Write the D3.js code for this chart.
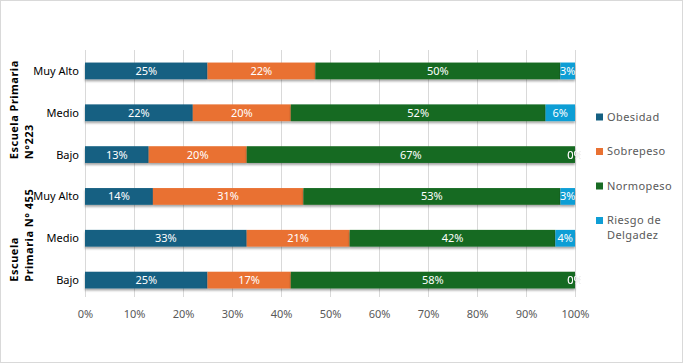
<!DOCTYPE html>
<html>
<head>
<meta charset="utf-8">
<script src="https://cdn.jsdelivr.net/npm/d3@7"></script>
<style>
  body { margin: 0; background: #fff; }
  text { font-family: "Noto Sans", "Open Sans", sans-serif; }
</style>
</head>
<body>
<svg id="chart" width="684" height="364"></svg>
<script>
var categories = ["Muy Alto", "Medio", "Bajo", "Muy Alto", "Medio", "Bajo"];
var groups = [
	{ lines: ["Escuela Primaria", "N°223"], rows: [0, 1, 2] },
	{ lines: ["Escuela", "Primaria N° 455"], rows: [3, 4, 5] }
];
var seriesNames = ["Obesidad", "Sobrepeso", "Normopeso", "Riesgo de Delgadez"];
var obesidad  = [25, 22, 13, 14, 33, 25];
var sobrepeso = [22, 20, 20, 31, 21, 17];
var normopeso = [50, 52, 67, 53, 42, 58];
var riesgo    = [3, 6, 0, 3, 4, 0];
var ticks = [0, 10, 20, 30, 40, 50, 60, 70, 80, 90, 100];
var colors = ["#156082", "#E97132", "#196B24", "#0F9ED5"];

var plotLeft = 85, plotRight = 575, plotTop = 50, plotBottom = 301;

var svg = d3.select("#chart");

svg.append("rect")
	.attr("x", 0.5).attr("y", 0.5)
	.attr("width", 682).attr("height", 362)
	.attr("fill", "#fff")
	.attr("stroke", "#d9d9d9");

var defs = svg.append("defs");
defs.append("filter").attr("id", "shadow")
	.attr("x", "-5%").attr("y", "-30%").attr("width", "110%").attr("height", "180%")
	.append("feDropShadow")
	.attr("dx", 0).attr("dy", 2).attr("stdDeviation", 1.2)
	.attr("flood-color", "#000").attr("flood-opacity", 0.35);
defs.append("filter").attr("id", "tshadow")
	.append("feDropShadow")
	.attr("dx", 0).attr("dy", 0).attr("stdDeviation", 0.5)
	.attr("flood-color", "#aaa").attr("flood-opacity", 0.8);
defs.append("clipPath").attr("id", "plotclip")
	.append("rect").attr("x", plotLeft).attr("y", plotTop)
	.attr("width", plotRight - plotLeft + 6).attr("height", plotBottom - plotTop);

// 100% stacked: domain is the share 0..1
var xScale = d3.scaleLinear().domain([0, 1]).range([plotLeft, plotRight]);
var yScale = d3.scaleBand().domain(d3.range(categories.length))
	.range([plotTop, plotBottom]).paddingInner(0.6).paddingOuter(0.3);

// gridlines
svg.append("g")
	.selectAll("line")
	.data(ticks)
	.enter().append("line")
	.attr("x1", function(d) { return xScale(d / 100); })
	.attr("x2", function(d) { return xScale(d / 100); })
	.attr("y1", plotTop)
	.attr("y2", plotBottom - 4)
	.attr("stroke", "#d9d9d9")
	.attr("stroke-width", 1)
	.attr("shape-rendering", "crispEdges");

// x axis labels
var xAxis = d3.axisBottom(xScale)
	.tickValues(ticks.map(function(t) { return t / 100; }))
	.tickSize(0)
	.tickPadding(0)
	.tickFormat(d3.format(".0%"));

var xg = svg.append("g")
	.attr("transform", "translate(0," + (plotBottom + 9) + ")")
	.call(xAxis);
xg.select(".domain").remove();
xg.selectAll("text")
	.attr("fill", "#595959")
	.style("font-size", "11px")
	.style("font-family", "\"Noto Sans\", sans-serif");

// stacked data
var rows = categories.map(function(c, i) {
	return { Obesidad: obesidad[i], Sobrepeso: sobrepeso[i],
		Normopeso: normopeso[i], "Riesgo de Delgadez": riesgo[i] };
});
var stack = d3.stack().keys(seriesNames).offset(d3.stackOffsetExpand)(rows);

var layers = svg.append("g")
	.selectAll("g")
	.data(stack)
	.enter().append("g")
	.attr("fill", function(d, i) { return colors[i]; });

layers.selectAll("rect")
	.data(function(d) { return d; })
	.enter().append("rect")
	.attr("x", function(d) { return xScale(d[0]); })
	.attr("y", function(d, i) { return yScale(i); })
	.attr("width", function(d) { return xScale(d[1]) - xScale(d[0]); })
	.attr("height", yScale.bandwidth())
	.attr("filter", "url(#shadow)");

// data labels
var labels = svg.append("g").attr("clip-path", "url(#plotclip)");
stack.forEach(function(layer) {
	labels.selectAll(null)
		.data(layer)
		.enter().append("text")
		.attr("x", function(d) { return xScale((d[0] + d[1]) / 2); })
		.attr("y", function(d, i) { return yScale(i) + yScale.bandwidth() / 2; })
		.attr("dy", "0.36em")
		.attr("text-anchor", "middle")
		.attr("fill", "#fff")
		.attr("filter", function(d) { return d.data[layer.key] === 0 ? "url(#tshadow)" : null; })
		.style("font-size", "11px")
		.text(function(d) { return d.data[layer.key] + "%"; });
});

// category labels
svg.append("g")
	.selectAll("text")
	.data(categories)
	.enter().append("text")
	.attr("x", plotLeft - 6)
	.attr("y", function(d, i) { return yScale(i) + yScale.bandwidth() / 2; })
	.attr("dy", "0.36em")
	.attr("text-anchor", "end")
	.attr("fill", "#000")
	.style("font-size", "11px")
	.text(function(d) { return d; });

// group labels (rotated, left aligned lines)
groups.forEach(function(g) {
	var y0 = yScale(g.rows[0]) - yScale.step() * yScale.paddingInner() / 2;
	var y1 = yScale(g.rows[g.rows.length - 1]) + yScale.bandwidth() + yScale.step() * yScale.paddingInner() / 2;
	var cy = (y0 + y1) / 2;
	var gt = svg.append("g");
	var texts = gt.selectAll("text")
		.data(g.lines)
		.enter().append("text")
		.attr("text-anchor", "start")
		.attr("font-weight", "bold")
		.attr("fill", "#000")
		.style("font-size", "11px")
		.style("letter-spacing", "0.5px")
		.text(function(d) { return d; });
	var maxLen = d3.max(texts.nodes(), function(n) { return n.getComputedTextLength(); });
	texts.attr("transform", function(d, i) {
		return "translate(" + (18 + i * 15) + "," + (cy + maxLen / 2 - 3) + ") rotate(-90)";
	});
});

// legend
var legend = svg.append("g")
	.selectAll("g")
	.data(seriesNames)
	.enter().append("g")
	.attr("transform", function(d, i) { return "translate(596," + (117 + i * 34.5) + ")"; });

legend.append("rect")
	.attr("x", 0).attr("y", -3.5)
	.attr("width", 7).attr("height", 7)
	.attr("fill", function(d, i) { return colors[i]; });

legend.append("text")
	.attr("x", 11)
	.attr("fill", "#595959")
	.style("font-size", "11px")
	.style("letter-spacing", "0.4px")
	.each(function(d) {
		var parts = d === "Riesgo de Delgadez" ? ["Riesgo de", "Delgadez"] : [d];
		var t = d3.select(this);
		parts.forEach(function(p, j) {
			t.append("tspan").attr("x", 11).attr("dy", j === 0 ? "0.36em" : "15").text(p);
		});
	});
</script>
</body>
</html>
